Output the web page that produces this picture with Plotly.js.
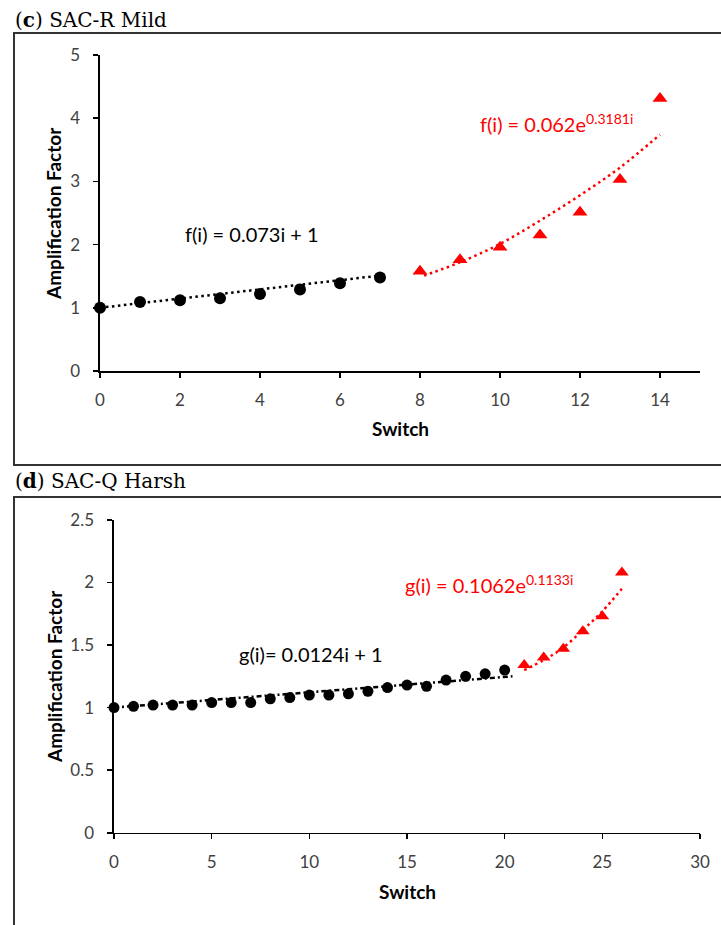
<!DOCTYPE html>
<html>
<head>
<meta charset="utf-8">
<script src="https://cdn.plot.ly/plotly-3.0.1.min.js"></script>
<style>html,body{margin:0;padding:0;background:#fff;}#chart{width:721px;height:925px;}</style>
</head>
<body>
<div id="chart"></div>
<script>
// ---- Panel (c) SAC-R Mild ----
const switchC_lin = [0, 1, 2, 3, 4, 5, 6, 7];
const ampC_lin = [1.00, 1.09, 1.12, 1.15, 1.22, 1.29, 1.39, 1.48];
const switchC_exp = [8, 9, 10, 11, 12, 13, 14];
const ampC_exp = [1.58, 1.76, 1.96, 2.15, 2.51, 3.03, 4.31];
const trendC_linX = [0, 7];
const trendC_linY = [1.00, 1.51];
const trendC_expX = [8.1, 9, 10, 11, 12, 13, 14];
const trendC_expY = [1.51, 1.72, 2.01, 2.38, 2.78, 3.22, 3.74];

// ---- Panel (d) SAC-Q Harsh ----
const switchD_lin = [0, 1, 2, 3, 4, 5, 6, 7, 8, 9, 10, 11, 12, 13, 14, 15, 16, 17, 18, 19, 20];
const ampD_lin = [1.00, 1.01, 1.02, 1.02, 1.02, 1.04, 1.04, 1.04, 1.07, 1.08, 1.10, 1.10, 1.11, 1.13, 1.16, 1.18, 1.17, 1.22, 1.25, 1.27, 1.30];
const switchD_exp = [21, 22, 23, 24, 25, 26];
const ampD_exp = [1.34, 1.40, 1.47, 1.61, 1.73, 2.08];
const trendD_linX = [0, 20.4];
const trendD_linY = [1.00, 1.25];
const trendD_expX = [21, 22, 23, 24, 25, 26];
const trendD_expY = [1.30, 1.38, 1.48, 1.62, 1.77, 1.95];

// text
const panelTitles = ['(<b>c</b>) SAC-R Mild', '(<b>d</b>) SAC-Q Harsh'];
const eqC_lin = 'f(i) = 0.073i + 1';
const eqC_exp = 'f(i) = 0.062e<sup>0.3181i</sup>';
const eqD_lin = 'g(i)= 0.0124i + 1';
const eqD_exp = 'g(i) = 0.1062e<sup>0.1133i</sup>';
const xTitle = 'Switch';
const yTitle = 'Amplification Factor';

const W = 721, H = 925;
const px = v => v / W;
const py = v => 1 - v / H;
const RED = '#FF0000';

const traces = [
  {x: trendC_linX, y: trendC_linY, xaxis: 'x', yaxis: 'y', mode: 'lines',
   line: {color: '#000', width: 2.5, dash: '2.5px,3.5px'}, hoverinfo: 'skip'},
  {x: trendC_expX, y: trendC_expY, xaxis: 'x', yaxis: 'y', mode: 'lines',
   line: {color: RED, width: 2.5, dash: '2.5px,3.5px', shape: 'spline'}, hoverinfo: 'skip'},
  {x: switchC_lin, y: ampC_lin, xaxis: 'x', yaxis: 'y', mode: 'markers', cliponaxis: false,
   marker: {symbol: 'circle', size: 12, color: '#000'}},
  {x: switchC_exp, y: ampC_exp, xaxis: 'x', yaxis: 'y', mode: 'markers', cliponaxis: false,
   marker: {symbol: 'triangle-up', size: 13, color: RED}},

  {x: trendD_linX, y: trendD_linY, xaxis: 'x2', yaxis: 'y2', mode: 'lines',
   line: {color: '#000', width: 2.5, dash: '5px,3px,2px,3px'}, hoverinfo: 'skip'},
  {x: trendD_expX, y: trendD_expY, xaxis: 'x2', yaxis: 'y2', mode: 'lines',
   line: {color: RED, width: 2.5, dash: '2.5px,3.5px', shape: 'spline'}, hoverinfo: 'skip'},
  {x: switchD_lin, y: ampD_lin, xaxis: 'x2', yaxis: 'y2', mode: 'markers', cliponaxis: false,
   marker: {symbol: 'circle', size: 11, color: '#000'}},
  {x: switchD_exp, y: ampD_exp, xaxis: 'x2', yaxis: 'y2', mode: 'markers', cliponaxis: false,
   marker: {symbol: 'triangle-up', size: 12, color: RED}}
];

const tickFont = {family: 'Lato, sans-serif', size: 17, color: '#404040'};
const axisCommon = {
  showline: true, linecolor: '#000', linewidth: 1.6,
  ticks: 'outside', ticklen: 5, tickwidth: 1.6, tickcolor: '#000',
  showgrid: false, zeroline: false, tickfont: tickFont, fixedrange: true
};

const layout = {
  width: W, height: H,
  margin: {l: 0, r: 0, t: 0, b: 0},
  paper_bgcolor: '#fff', plot_bgcolor: 'rgba(0,0,0,0)',
  showlegend: false,
  xaxis: Object.assign({}, axisCommon, {domain: [px(100), px(700)], anchor: 'y', range: [0, 15], tick0: 0, dtick: 2, ticklabelstandoff: 8}),
  yaxis: Object.assign({}, axisCommon, {domain: [py(371), py(55)], anchor: 'x', range: [0, 5], tick0: 0, dtick: 1, ticklabelstandoff: 10}),
  xaxis2: Object.assign({}, axisCommon, {domain: [px(114), px(700)], anchor: 'y2', range: [0, 30], tick0: 0, dtick: 5, ticklabelstandoff: 8}),
  yaxis2: Object.assign({}, axisCommon, {domain: [py(832.7), py(520)], anchor: 'x2', range: [0, 2.5], tick0: 0, dtick: 0.5, ticklabelstandoff: 10}),
  shapes: [
    {type: 'rect', xref: 'paper', yref: 'paper', x0: px(14), x1: 1.05, y0: py(465), y1: py(33),
     line: {color: '#333', width: 2}},
    {type: 'rect', xref: 'paper', yref: 'paper', x0: px(14), x1: 1.05, y0: -0.05, y1: py(497),
     line: {color: '#333', width: 2}}
  ],
  annotations: [
    {text: panelTitles[0], xref: 'paper', yref: 'paper', x: px(13), y: py(20), xanchor: 'left', yanchor: 'middle',
     showarrow: false, font: {family: 'DejaVu Serif, serif', size: 20, color: '#000'}},
    {text: panelTitles[1], xref: 'paper', yref: 'paper', x: px(13), y: py(481), xanchor: 'left', yanchor: 'middle',
     showarrow: false, font: {family: 'DejaVu Serif, serif', size: 20, color: '#000'}},

    {text: '<b>' + yTitle + '</b>', textangle: -90, xref: 'paper', yref: 'paper', x: px(54), y: py(213),
     xanchor: 'center', yanchor: 'middle', showarrow: false, font: {family: 'Lato, sans-serif', size: 19, color: '#000'}},
    {text: '<b>' + xTitle + '</b>', xref: 'paper', yref: 'paper', x: px(400), y: py(429),
     xanchor: 'center', yanchor: 'middle', showarrow: false, font: {family: 'Lato, sans-serif', size: 19, color: '#000'}},
    {text: '<b>' + yTitle + '</b>', textangle: -90, xref: 'paper', yref: 'paper', x: px(54), y: py(676),
     xanchor: 'center', yanchor: 'middle', showarrow: false, font: {family: 'Lato, sans-serif', size: 19, color: '#000'}},
    {text: '<b>' + xTitle + '</b>', xref: 'paper', yref: 'paper', x: px(407), y: py(891),
     xanchor: 'center', yanchor: 'middle', showarrow: false, font: {family: 'Lato, sans-serif', size: 19, color: '#000'}},

    {text: eqC_lin, xref: 'x', yref: 'y', x: 3.8, y: 2.16, xanchor: 'center', yanchor: 'middle', showarrow: false,
     font: {family: 'Lato, sans-serif', size: 20, color: '#000'}},
    {text: eqC_exp, xref: 'x', yref: 'y', x: 11.4, y: 3.92, xanchor: 'center', yanchor: 'middle', showarrow: false,
     font: {family: 'Lato, sans-serif', size: 20, color: RED}},
    {text: eqD_lin, xref: 'x2', yref: 'y2', x: 10.06, y: 1.43, xanchor: 'center', yanchor: 'middle', showarrow: false,
     font: {family: 'Lato, sans-serif', size: 20, color: '#000'}},
    {text: eqD_exp, xref: 'x2', yref: 'y2', x: 19.2, y: 1.99, xanchor: 'center', yanchor: 'middle', showarrow: false,
     font: {family: 'Lato, sans-serif', size: 20, color: RED}}
  ]
};

Plotly.newPlot('chart', traces, layout, {staticPlot: true, displayModeBar: false});
</script>
</body>
</html>
